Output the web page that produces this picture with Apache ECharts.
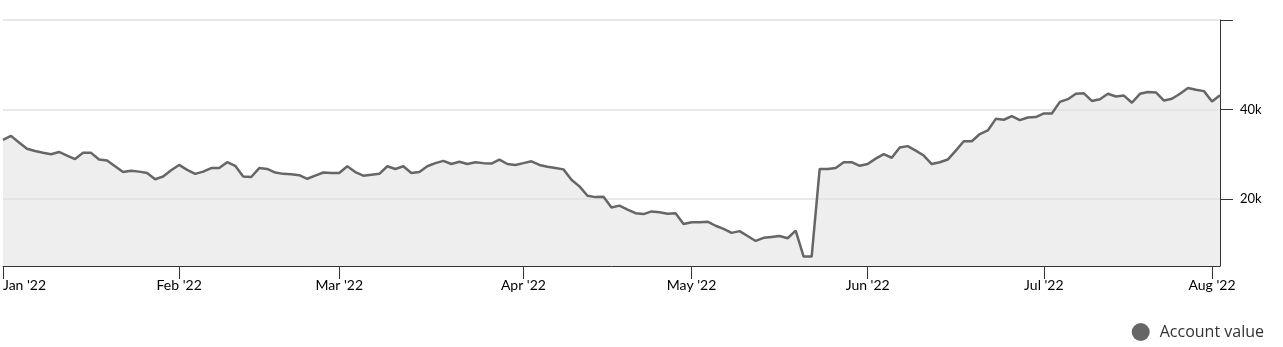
<!DOCTYPE html>
<html>
<head>
<meta charset="utf-8">
<script src="https://cdn.jsdelivr.net/npm/echarts@6/dist/echarts.min.js"></script>
<style>
  html, body { margin: 0; padding: 0; background: #ffffff; }
  #chart { width: 1283px; height: 347px; }
</style>
</head>
<body>
<div id="chart"></div>
<script>
// Trading-day categories (first entry is the left edge of the axis, Jan 1)
const categories = [
  '2022-01-01',
  '2022-01-03','2022-01-04','2022-01-05','2022-01-06','2022-01-07','2022-01-10','2022-01-11','2022-01-12','2022-01-13','2022-01-14',
  '2022-01-17','2022-01-18','2022-01-19','2022-01-20','2022-01-21','2022-01-24','2022-01-25','2022-01-26','2022-01-27','2022-01-28','2022-01-31',
  '2022-02-01','2022-02-02','2022-02-03','2022-02-04','2022-02-07','2022-02-08','2022-02-09','2022-02-10','2022-02-11','2022-02-14',
  '2022-02-15','2022-02-16','2022-02-17','2022-02-18','2022-02-21','2022-02-22','2022-02-23','2022-02-24','2022-02-25','2022-02-28',
  '2022-03-01','2022-03-02','2022-03-03','2022-03-04','2022-03-07','2022-03-08','2022-03-09','2022-03-10','2022-03-11','2022-03-14',
  '2022-03-15','2022-03-16','2022-03-17','2022-03-18','2022-03-21','2022-03-22','2022-03-23','2022-03-24','2022-03-25','2022-03-28',
  '2022-03-29','2022-03-30','2022-03-31',
  '2022-04-01','2022-04-04','2022-04-05','2022-04-06','2022-04-07','2022-04-08','2022-04-11','2022-04-12','2022-04-13','2022-04-14',
  '2022-04-15','2022-04-18','2022-04-19','2022-04-20','2022-04-21','2022-04-22','2022-04-25','2022-04-26','2022-04-27','2022-04-28','2022-04-29',
  '2022-05-02','2022-05-03','2022-05-04','2022-05-05','2022-05-06','2022-05-09','2022-05-10','2022-05-11','2022-05-12','2022-05-13',
  '2022-05-16','2022-05-17','2022-05-18','2022-05-19','2022-05-20','2022-05-23','2022-05-24','2022-05-25','2022-05-26','2022-05-27',
  '2022-05-30','2022-05-31',
  '2022-06-01','2022-06-02','2022-06-03','2022-06-06','2022-06-07','2022-06-08','2022-06-09','2022-06-10','2022-06-13','2022-06-14',
  '2022-06-15','2022-06-16','2022-06-17','2022-06-20','2022-06-21','2022-06-22','2022-06-23','2022-06-24','2022-06-27','2022-06-28',
  '2022-06-29','2022-06-30',
  '2022-07-01','2022-07-04','2022-07-05','2022-07-06','2022-07-07','2022-07-08','2022-07-11','2022-07-12','2022-07-13','2022-07-14',
  '2022-07-15','2022-07-18','2022-07-19','2022-07-20','2022-07-21','2022-07-22','2022-07-25','2022-07-26','2022-07-27','2022-07-28','2022-07-29',
  '2022-08-01','2022-08-02'
];

// Account value (USD)
const accountValue = [
  33200,
  34100, 32600, 31200, 30700, 30300, 30000, 30500, 29700, 28900, 30300,
  30300, 28800, 28600, 27300, 26000, 26300, 26100, 25800, 24400, 25000, 26400,
  27600, 26500, 25600, 26100, 26900, 26900, 28200, 27400, 25000, 24900,
  26900, 26700, 25900, 25600, 25500, 25300, 24500, 25200, 25900, 25800,
  25800, 27300, 26000, 25200, 25400, 25600, 27300, 26700, 27300, 25800,
  26000, 27300, 28000, 28500, 27800, 28300, 27800, 28200, 28000, 27900,
  28800, 27800, 27600,
  28000, 28400, 27600, 27200, 26900, 26600, 24300, 22800, 20700, 20400,
  20500, 18100, 18500, 17600, 16800, 16600, 17200, 17000, 16700, 16800, 14400,
  14800, 14800, 14900, 14000, 13300, 12400, 12800, 11700, 10600, 11300,
  11500, 11700, 11200, 12900, 7100, 7100, 26700, 26700, 26900, 28200,
  28200, 27400,
  27800, 29000, 30000, 29200, 31500, 31800, 30800, 29700, 27800, 28200,
  28800, 30800, 32900, 32900, 34500, 35300, 37900, 37700, 38500, 37600,
  38200, 38300,
  39100, 39100, 41700, 42300, 43500, 43600, 41900, 42300, 43500, 42900,
  43100, 41500, 43500, 43900, 43800, 42000, 42400, 43500, 44800, 44400, 44100,
  41800, 43200
];

const seriesName = 'Account value';
const monthTickDates = ['2022-01-01','2022-02-01','2022-03-01','2022-04-01','2022-05-02','2022-06-01','2022-07-01','2022-08-01'];
const monthTickLabels = ["Jan '22","Feb '22","Mar '22","Apr '22","May '22","Jun '22","Jul '22","Aug '22"];
const yTickValues = [20000, 40000, 60000];
const yLabelValues = [20000, 40000];

const chart = echarts.init(document.getElementById('chart'), null, { renderer: 'canvas' });

const isMonthTick = (idx, val) => monthTickDates.indexOf(val) !== -1;

chart.setOption({
  animation: false,
  backgroundColor: '#ffffff',
  grid: { left: 2, right: 63, top: 20, bottom: 81 },
  legend: {
    data: [seriesName],
    right: 14,
    top: 318,
    icon: 'circle',
    itemWidth: 18,
    itemHeight: 18,
    textStyle: { fontFamily: 'Open Sans', fontSize: 16, color: '#333333', padding: [0, 0, 0, 5] }
  },
  xAxis: {
    type: 'category',
    data: categories,
    boundaryGap: false,
    axisLine: { show: true, lineStyle: { color: '#333333', width: 1 } },
    axisTick: { show: true, interval: isMonthTick, length: 13, lineStyle: { color: '#333333' } },
    axisLabel: {
      interval: isMonthTick,
      formatter: (v) => { const i = monthTickDates.indexOf(v); return i === -1 ? '' : monthTickLabels[i]; },
      alignMinLabel: 'left',
      margin: 12,
      fontFamily: 'Lato',
      fontSize: 14,
      color: '#000000'
    },
    splitLine: { show: false }
  },
  yAxis: {
    type: 'value',
    position: 'right',
    min: 5000,
    max: 60000,
    interval: 5000,
    axisLine: { show: true, lineStyle: { color: '#333333', width: 1 } },
    axisTick: { show: true, length: 13, customValues: yTickValues, lineStyle: { color: '#333333' } },
    axisLabel: {
      customValues: yLabelValues,
      formatter: (v) => (v % 20000 === 0 && v < 60000) ? (v / 1000) + 'k' : '',
      margin: 20,
      fontFamily: 'Lato',
      fontSize: 13,
      color: '#000000'
    },
    splitLine: { show: false }
  },
  series: [{
    name: seriesName,
    type: 'line',
    data: accountValue,
    symbol: 'none',
    color: '#666666',
    z: 3,
    lineStyle: { color: '#666666', width: 2.5 },
    itemStyle: { color: '#666666' },
    areaStyle: { color: '#e0e0e0', opacity: 0.55, origin: 'start' },
    markLine: {
      silent: true,
      symbol: ['none', 'none'],
      label: { show: false },
      z: 1,
      lineStyle: { color: '#e8e8e8', type: 'solid', width: 2 },
      emphasis: { disabled: true },
      data: yTickValues.map(v => ({ yAxis: v }))
    }
  }]
});
</script>
</body>
</html>
